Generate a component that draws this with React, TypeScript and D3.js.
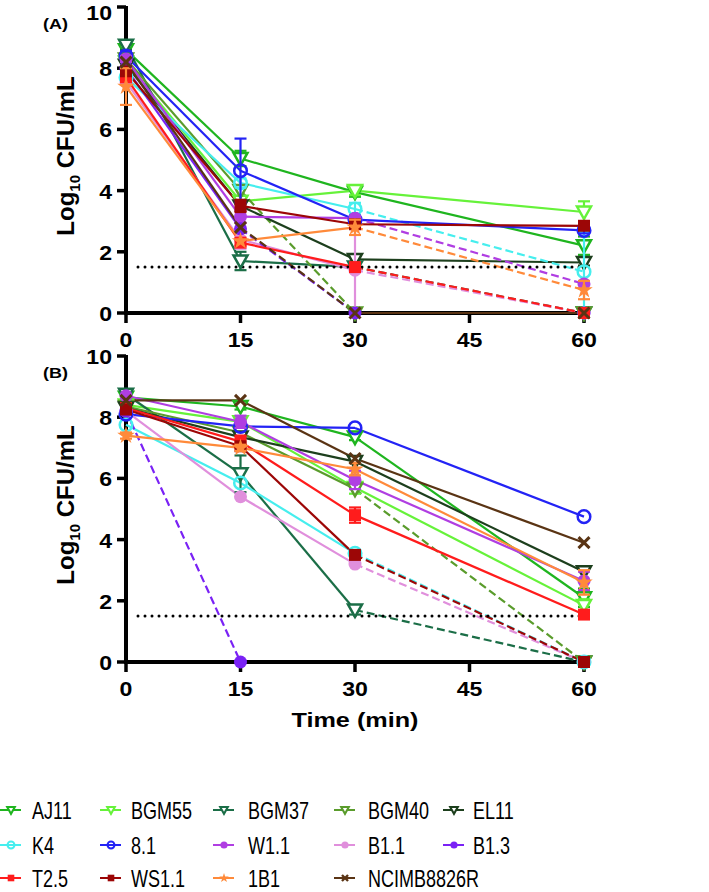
import React from "react";
import * as d3 from "d3";

// ---------- data ----------
const times = [0, 15, 30, 60];
const xTicks = [0, 15, 30, 45, 60];
const yTicks = [0, 2, 4, 6, 8, 10];
const LOD = 1.5;

const strains = ["AJ11", "BGM55", "BGM37", "BGM40", "EL11", "K4", "8.1", "W1.1", "B1.1", "B1.3", "T2.5", "WS1.1", "1B1", "NCIMB8826R"];
const colors = ["#1fb51f", "#66f23a", "#1b6e47", "#5a9c2c", "#1d3f1d", "#46eeee", "#2323f5", "#b03ee2", "#e08fdc", "#7a22f5", "#ff1c1c", "#9c0606", "#ff8a3a", "#5a3414"];
const shapes = ["tri", "tri", "tri", "tri", "tri", "ring", "ring", "dot", "dot", "dot", "square", "square", "star", "x"];

// Panel A (t = 0, 15, 30, 60 min)
const A_AJ11 = [8.6, 5.05, 3.95, 2.2];
const A_BGM55 = [8.2, 3.65, 4.0, 3.3];
const A_BGM37 = [8.75, 1.7, 1.5, 0];
const A_BGM40 = [8.3, 4.0, 0, 0];
const A_EL11 = [8.1, 3.5, 1.75, 1.65];
const A_K4 = [7.7, 4.25, 3.4, 1.35];
const A_81 = [8.4, 4.65, 3.05, 2.7];
const A_W11 = [8.3, 3.15, 3.1, 0.95];
const A_B11 = [7.55, 2.4, 1.4, 0];
const A_B13 = [8.0, 2.75, 0, 0];
const A_T25 = [7.7, 2.3, 1.5, 0];
const A_WS11 = [7.9, 3.5, 2.9, 2.85];
const A_1B1 = [7.4, 2.35, 2.8, 0.75];
const A_NCIMB = [8.2, 2.8, 0, 0];

// Panel B
const B_AJ11 = [8.65, 8.35, 7.35, 2.1];
const B_BGM55 = [8.4, 7.85, 5.7, 1.85];
const B_BGM37 = [8.75, 6.15, 1.7, 0];
const B_BGM40 = [8.35, 7.5, 5.65, 0];
const B_EL11 = [8.3, 7.35, 6.55, 2.95];
const B_K4 = [7.75, 5.85, 3.55, 0];
const B_81 = [8.1, 7.7, 7.65, 4.75];
const B_W11 = [8.7, 7.85, 5.95, 2.65];
const B_B11 = [8.2, 5.4, 3.2, 0];
const B_B13 = [8.2, 0, null, null];
const B_T25 = [8.3, 7.2, 4.8, 1.55];
const B_WS11 = [8.25, 7.05, 3.5, 0];
const B_1B1 = [7.4, 7.0, 6.3, 2.6];
const B_NCIMB = [8.55, 8.55, 6.65, 3.9];

// error bars (SD)
const eA_AJ11 = [0.15, 0.25, 0.15, 0.3];
const eA_BGM55 = [0, 0, 0.15, 0.35];
const eA_BGM37 = [0.15, 0.3, 0, 0.15];
const eA_BGM40 = [0, 0, 0.15, 0];
const eA_EL11 = [0, 0, 0, 0.1];
const eA_K4 = [0, 0.15, 0.2, 1.3];
const eA_81 = [0.15, 1.05, 0.1, 0.1];
const eA_W11 = [0.1, 0.2, 0, 0];
const eA_B11 = [0, 0.3, 1.6, 0];
const eA_B13 = [0, 0, 0, 0];
const eA_T25 = [0, 0.1, 0, 0];
const eA_WS11 = [0, 0.2, 0.05, 0.1];
const eA_1B1 = [0.6, 0, 0.25, 0.3];
const eA_NCIMB = [0, 0, 0, 0];

const eB_AJ11 = [0.1, 0.1, 0.1, 0.3];
const eB_BGM55 = [0, 0.1, 0.2, 0.2];
const eB_BGM37 = [0.1, 0.6, 0.15, 0];
const eB_BGM40 = [0, 0, 0, 0];
const eB_EL11 = [0, 0, 0, 0];
const eB_K4 = [0, 0, 0, 0];
const eB_81 = [0, 0, 0, 0];
const eB_W11 = [0, 0.2, 0.3, 0.3];
const eB_B11 = [0, 0, 0, 0];
const eB_B13 = [0, 0, 0, 0];
const eB_T25 = [0.1, 0.2, 0.25, 0];
const eB_WS11 = [0, 0, 0, 0];
const eB_1B1 = [0.1, 0.1, 0.2, 0.4];
const eB_NCIMB = [0, 0, 0, 0];

// index of first dashed segment (below-LOD extrapolation), 9 = none
const dashA = [9, 9, 2, 1, 9, 2, 9, 2, 2, 1, 2, 9, 2, 1];
const dashB = [9, 9, 2, 2, 9, 2, 9, 9, 2, 0, 9, 2, 9, 9];

const panelAValues = [A_AJ11, A_BGM55, A_BGM37, A_BGM40, A_EL11, A_K4, A_81, A_W11, A_B11, A_B13, A_T25, A_WS11, A_1B1, A_NCIMB];
const panelBValues = [B_AJ11, B_BGM55, B_BGM37, B_BGM40, B_EL11, B_K4, B_81, B_W11, B_B11, B_B13, B_T25, B_WS11, B_1B1, B_NCIMB];
const panelAErr = [eA_AJ11, eA_BGM55, eA_BGM37, eA_BGM40, eA_EL11, eA_K4, eA_81, eA_W11, eA_B11, eA_B13, eA_T25, eA_WS11, eA_1B1, eA_NCIMB];
const panelBErr = [eB_AJ11, eB_BGM55, eB_BGM37, eB_BGM40, eB_EL11, eB_K4, eB_81, eB_W11, eB_B11, eB_B13, eB_T25, eB_WS11, eB_1B1, eB_NCIMB];

// ---------- layout ----------
const W = 709;
const H = 892;
const FONT = "'Liberation Sans', Arial, Helvetica, sans-serif";
const xS = d3.scaleLinear().domain([0, 60]).range([126, 584]);

function Marker({ shape, color, x, y, s = 1 }: any) {
  const sw = 2.5 * (s < 1 ? 0.8 : 1);
  if (shape === "tri") {
    const hw = 7 * s, top = -5.5 * s, bot = 7 * s;
    return <path d={`M${x - hw},${y + top}L${x + hw},${y + top}L${x},${y + bot}Z`} fill="white" stroke={color} strokeWidth={sw} strokeLinejoin="miter" />;
  }
  if (shape === "ring") return <circle cx={x} cy={y} r={6.3 * s} fill="none" stroke={color} strokeWidth={sw} />;
  if (shape === "dot") return <circle cx={x} cy={y} r={6.5 * s} fill={color} />;
  if (shape === "square") return <rect x={x - 6 * s} y={y - 6 * s} width={12 * s} height={12 * s} fill={color} />;
  if (shape === "star") {
    const p = d3.symbol(d3.symbolStar, 95 * s * s)();
    return <path d={p as string} transform={`translate(${x},${y})`} fill={color} />;
  }
  const r = 5.5 * s;
  return (
    <g stroke={color} strokeWidth={3 * (s < 1 ? 0.8 : 1)}>
      <line x1={x - r} y1={y - r} x2={x + r} y2={y + r} />
      <line x1={x - r} y1={y + r} x2={x + r} y2={y - r} />
    </g>
  );
}

function Panel({ label, top, bottom, values, errs, dash }: any) {
  const yS = d3.scaleLinear().domain([0, 10]).range([bottom, top]);
  const line = d3.line<[number, number]>().x((d) => xS(d[0])).y((d) => yS(d[1]));
  const segs: any[] = [];
  values.forEach((vals: (number | null)[], si: number) => {
    for (let i = 0; i < times.length - 1; i++) {
      const a = vals[i], b = vals[i + 1];
      if (a == null || b == null) continue;
      const dashed = i >= dash[si] && !(a === 0 && b === 0);
      segs.push(
        <path key={`s${si}-${i}`} d={line([[times[i], a], [times[i + 1], b]]) as string} fill="none" stroke={colors[si]} strokeWidth={2.2} strokeDasharray={dashed ? "8 4" : undefined} />
      );
    }
  });
  const marks: any[] = [];
  values.forEach((vals: (number | null)[], si: number) => {
    vals.forEach((v, i) => {
      if (v == null) return;
      const e = errs[si][i];
      const cx = xS(times[i]);
      if (e > 0) {
        const y1 = yS(v + e), y2 = yS(Math.max(0, v - e));
        marks.push(
          <g key={`e${si}-${i}`} stroke={colors[si]} strokeWidth={2.2}>
            <line x1={cx} x2={cx} y1={y1} y2={y2} />
            <line x1={cx - 6} x2={cx + 6} y1={y1} y2={y1} />
            {v - e > 0 && <line x1={cx - 6} x2={cx + 6} y1={y2} y2={y2} />}
          </g>
        );
      }
      marks.push(<Marker key={`m${si}-${i}`} shape={shapes[si]} color={colors[si]} x={cx} y={yS(v)} />);
    });
  });
  const axisW = 4;
  return (
    <g>
      <text x={43} y={top + 22} fontFamily={FONT} fontSize={15} fontWeight="bold" transform={`translate(${43 * -0.2},0) scale(1.2,1)`}>{label}</text>
      {/* y axis */}
      <line x1={xS(0)} x2={xS(0)} y1={top - 1} y2={bottom + axisW / 2} stroke="#000" strokeWidth={axisW} />
      {yTicks.map((t) => (
        <g key={`yt${t}`}>
          <line x1={117} x2={xS(0)} y1={yS(t)} y2={yS(t)} stroke="#000" strokeWidth={3.5} />
          <text x={112} y={Math.max(20, yS(t) + 8)} textAnchor="end" fontFamily={FONT} fontSize={21} fontWeight="bold" transform={`translate(${112 * -0.1},0) scale(1.1,1)`}>{t}</text>
        </g>
      ))}
      {/* x axis */}
      <line x1={xS(0) - axisW / 2} x2={xS(60) + 2} y1={bottom} y2={bottom} stroke="#000" strokeWidth={axisW} />
      {xTicks.map((t) => (
        <g key={`xt${t}`}>
          <line x1={xS(t)} x2={xS(t)} y1={bottom} y2={bottom + 10} stroke="#000" strokeWidth={3.5} />
          <text x={xS(t) / 1.1} y={bottom + 34} textAnchor="middle" fontFamily={FONT} fontSize={21} fontWeight="bold" transform="scale(1.1,1)">{t}</text>
        </g>
      ))}
      {/* y title */}
      <text transform={`translate(74,${(top + bottom) / 2 - 4}) rotate(-90)`} textAnchor="middle" fontFamily={FONT} fontSize={24} fontWeight="bold">
        Log<tspan fontSize={15} dy={6}>10</tspan><tspan dy={-6}> CFU/mL</tspan>
      </text>
      {segs}
      <line x1={xS(0) + 12} x2={xS(60) - 4} y1={yS(LOD)} y2={yS(LOD)} stroke="#000" strokeWidth={3} strokeDasharray="0 7" strokeLinecap="round" />
      {marks}
    </g>
  );
}

const legendCols = [{ lx: 0, tx: 32 }, { lx: 100, tx: 131 }, { lx: 213, tx: 248 }, { lx: 334, tx: 368 }, { lx: 443, tx: 473 }];
const legendRows = [810, 845, 878];

export default function App() {
  return (
    <svg width={W} height={H} style={{ position: "absolute", left: 0, top: 0, background: "#fff" }}>
      <rect width={W} height={H} fill="#fff" />
      <Panel label="(A)" top={7} bottom={313} values={panelAValues} errs={panelAErr} dash={dashA} />
      <Panel label="(B)" top={356} bottom={662} values={panelBValues} errs={panelBErr} dash={dashB} />
      <text x={355 / 1.2} y={727} textAnchor="middle" fontFamily={FONT} fontSize={21} fontWeight="bold" transform="scale(1.2,1)">Time (min)</text>
      {strains.map((s, i) => {
        const col = legendCols[i % 5];
        const ry = legendRows[Math.floor(i / 5)];
        return (
          <g key={s}>
            <line x1={col.lx} x2={col.lx + 21} y1={ry} y2={ry} stroke={colors[i]} strokeWidth={2} />
            <Marker shape={shapes[i]} color={colors[i]} x={col.lx + 11} y={ry} s={0.55} />
            <text transform={`translate(${col.tx},${ry + 8.5}) scale(1,1.3)`} fontFamily={FONT} fontSize={18}>{s}</text>
          </g>
        );
      })}
    </svg>
  );
}
